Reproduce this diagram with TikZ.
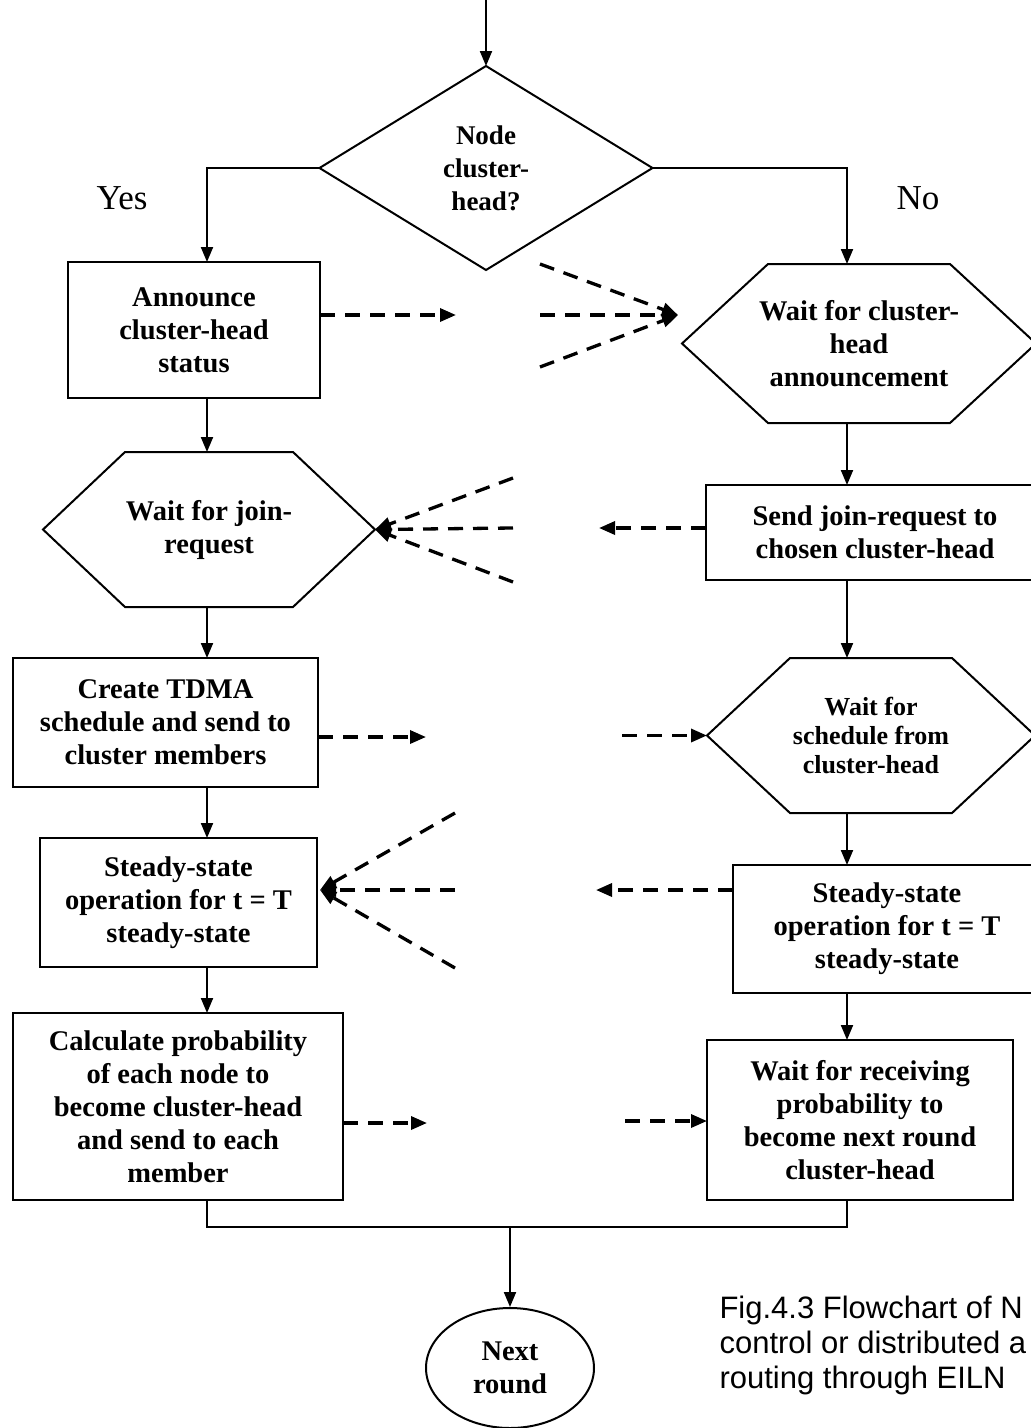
\documentclass[tikz,border=0pt]{standalone}
\usepackage{fontspec}
\setmainfont{Liberation Serif}
\newfontfamily\capfont{Liberation Sans}
\usetikzlibrary{arrows.meta,shapes.geometric}

\tikzset{
  boxfont/.style={font=\bfseries\fontsize{28.5pt}{33pt}\selectfont},
  smallfont/.style={font=\bfseries\fontsize{26pt}{29pt}\selectfont},
  procbox/.style={draw, line width=2pt, inner sep=0pt, outer sep=0pt, align=center, boxfont},
  hexframe/.style={inner sep=0pt, outer sep=0pt, align=center, boxfont},
  outline/.style={line width=2pt},
  flow/.style={line width=2pt, -{Triangle[length=15pt,width=12pt]}},
  dashflow/.style={line width=3.3pt, dash pattern=on 15pt off 10pt, -{Triangle[length=16pt,width=13pt]}},
  branchlabel/.style={font=\fontsize{35pt}{38pt}\selectfont},
}

% draws a six-sided outline over a named frame node, with horizontal chamfer #2
\newcommand\hexoutline[2]{%
  \draw[outline] (#1.west) -- ([xshift=#2]#1.north west) -- ([xshift=-#2]#1.north east)
    -- (#1.east) -- ([xshift=-#2]#1.south east) -- ([xshift=#2]#1.south west) -- cycle;}

\begin{document}
\begin{tikzpicture}[x=1pt,y=-1pt]
\clip (0,0) rectangle (1031,1428);
\fill[white] (0,0) rectangle (1031,1428);

% column axes
\coordinate (colL) at (207,0);
\coordinate (colR) at (847,0);
\coordinate (start) at (486,0);

% decision
\node[draw, outline, shape=diamond, aspect=1.63, minimum width=333pt, minimum height=204pt,
      inner sep=0pt, outer sep=0pt, align=center, font=\bfseries\fontsize{27pt}{33pt}\selectfont]
      (dec) at (486,168) {Node\\cluster-\\head?};
\node[branchlabel] (yes) at (122,198) {Yes};
\node[branchlabel] (no) at (918,198) {No};

% left column (cluster-head)
\node[procbox, minimum width=252pt, minimum height=136pt] (announce) at (194,330)
  {Announce\\cluster-head\\status};
\node[hexframe, minimum width=332pt, minimum height=155pt] (joinwait) at (209,529.5)
  {Wait for join-\\request};
\hexoutline{joinwait}{82pt}
\node[procbox, minimum width=305pt, minimum height=129pt] (tdma) at (165.5,722.5)
  {Create TDMA\\schedule and send to\\cluster members};
\node[procbox, minimum width=277pt, minimum height=129pt] (steadyL) at (178.5,902.5)
  {Steady-state\\operation for t = T\\steady-state};
\node[procbox, minimum width=330pt, minimum height=187pt] (calc) at (178,1106.5)
  {Calculate probability\\of each node to\\become cluster-head\\and send to each\\member};

% right column (member)
\node[hexframe, minimum width=354pt, minimum height=159pt] (chwait) at (859,343.5)
  {Wait for cluster-\\head\\announcement};
\hexoutline{chwait}{86pt}
\node[procbox, minimum width=338pt, minimum height=95pt] (sendjoin) at (875,532.5)
  {Send join-request to\\chosen cluster-head};
\node[hexframe, smallfont, minimum width=328pt, minimum height=155pt] (schedwait) at (871,735.5)
  {Wait for\\schedule from\\cluster-head};
\hexoutline{schedwait}{83pt}
\node[procbox, minimum width=308pt, minimum height=128pt] (steadyR) at (887,929)
  {Steady-state\\operation for t = T\\steady-state};
\node[procbox, minimum width=306pt, minimum height=160pt] (recvwait) at (860,1120)
  {Wait for receiving\\probability to\\become next round\\cluster-head};

% end
\node[draw, outline, shape=ellipse, minimum width=168pt, minimum height=120pt, inner sep=0pt,
      align=center, boxfont] (nextr) at (510,1368) {Next\\round};
\node[anchor=north west, align=left, font=\capfont\fontsize{31pt}{35pt}\selectfont]
  (cap) at (716,1292) {Fig.4.3 Flowchart of N\\control or distributed a\\routing through EILN};

% solid flow
\draw[flow] (start) -- (dec.north);
\draw[flow] (dec.west) -| (announce.north -| colL);
\draw[flow] (dec.east) -| (chwait.north -| colR);
\draw[flow] (announce.south -| colL) -- (joinwait.north -| colL);
\draw[flow] (joinwait.south -| colL) -- (tdma.north -| colL);
\draw[flow] (tdma.south -| colL) -- (steadyL.north -| colL);
\draw[flow] (steadyL.south -| colL) -- (calc.north -| colL);
\draw[flow] (chwait.south -| colR) -- (sendjoin.north -| colR);
\draw[flow] (sendjoin.south -| colR) -- (schedwait.north -| colR);
\draw[flow] (schedwait.south -| colR) -- (steadyR.north -| colR);
\draw[flow] (steadyR.south -| colR) -- (recvwait.north -| colR);
\coordinate (merge) at (510,1227);
\draw[outline] (calc.south -| colL) |- (merge) -| (recvwait.south -| colR);
\draw[flow] (merge) -- (nextr.north);

% messages between the two columns
\coordinate (m1) at (456,315);
\draw[dashflow] (announce.east |- m1) -- (m1);
\coordinate (f1) at (678,315);
\coordinate (f1a) at (540,264);
\coordinate (f1b) at (540,315);
\coordinate (f1c) at (540,367);
\draw[dashflow] (f1a) -- (f1);
\draw[dashflow] (f1b) -- (f1);
\draw[dashflow] (f1c) -- (f1);

\coordinate (m2) at (599,528);
\draw[dashflow] (sendjoin.west |- m2) -- (m2);
\coordinate (f2a) at (513,478);
\coordinate (f2b) at (513,528);
\coordinate (f2c) at (513,582);
\draw[dashflow] (f2a) -- (joinwait.east);
\draw[dashflow] (f2b) -- (joinwait.east);
\draw[dashflow] (f2c) -- (joinwait.east);

\coordinate (m3) at (426,737);
\draw[dashflow] (tdma.east |- m3) -- (m3);
\coordinate (m4) at (622,735.5);
\draw[dashflow] (m4) -- (schedwait.west);

\coordinate (m5) at (596,890);
\draw[dashflow] (steadyR.west |- m5) -- (m5);
\coordinate (f3) at (320,890);
\coordinate (f3a) at (455,813);
\coordinate (f3b) at (455,890);
\coordinate (f3c) at (455,968);
\draw[dashflow] (f3a) -- (f3);
\draw[dashflow] (f3b) -- (f3);
\draw[dashflow] (f3c) -- (f3);

\coordinate (m6) at (427,1123);
\draw[dashflow] (calc.east |- m6) -- (m6);
\coordinate (m7) at (625,1121);
\draw[dashflow] (m7) -- (recvwait.west |- m7);
\end{tikzpicture}
\end{document}
